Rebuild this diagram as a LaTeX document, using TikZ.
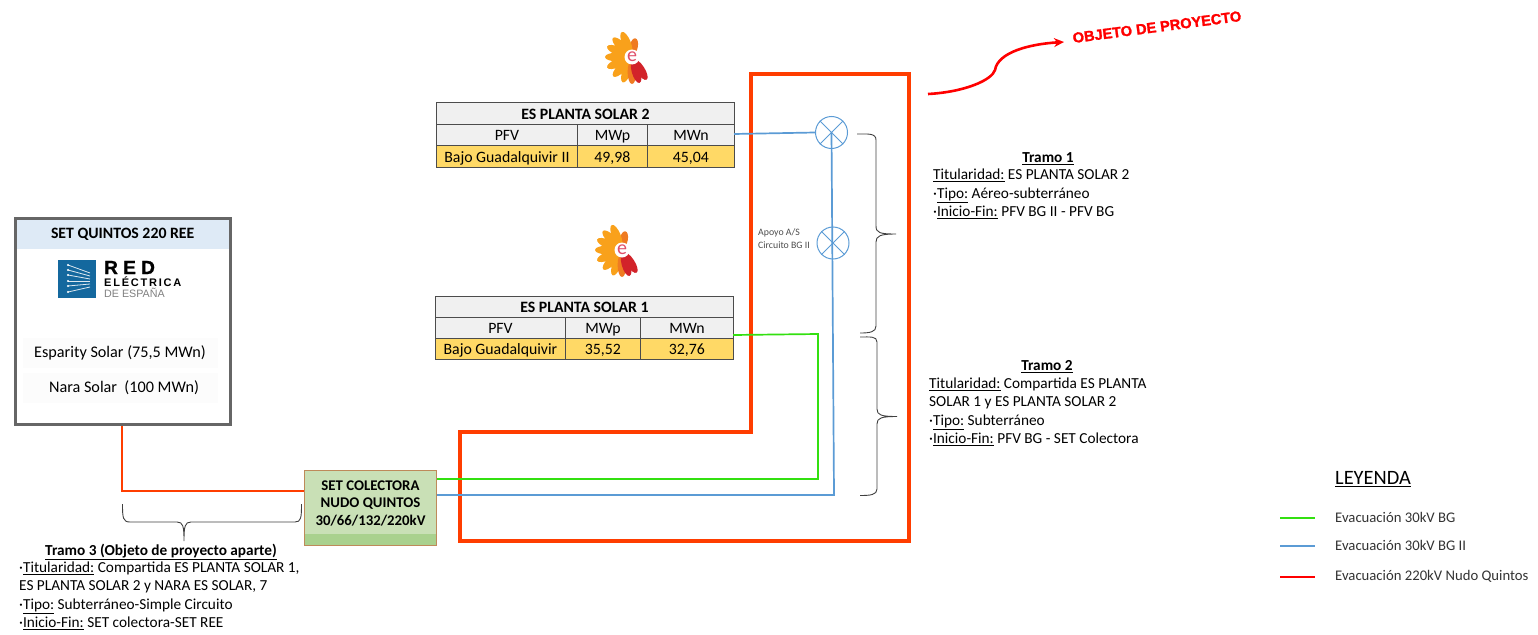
\documentclass[tikz,border=0pt]{standalone}
\usepackage{fontspec}
\usetikzlibrary{arrows.meta}
\setmainfont{Carlito}
\newfontfamily\logofont{Liberation Sans}
\newfontfamily\logowide[LetterSpace=28,FakeBold=1.2]{Liberation Sans}
\newfontfamily\logotrack[LetterSpace=16]{Liberation Sans}
\newfontfamily\objfont[FakeBold=1.6]{Liberation Sans}
\definecolor{boxred}{HTML}{FF3D00}
\definecolor{lineblue}{HTML}{5B9BD5}
\definecolor{linegreen}{HTML}{33E010}
\definecolor{cellgray}{HTML}{F0F0F0}
\definecolor{cellgold}{HTML}{FFD966}
\definecolor{headblue}{HTML}{DEEAF6}
\definecolor{setgreen}{HTML}{C9E0B6}
\definecolor{setstrip}{HTML}{A9D18E}
\definecolor{setedge}{HTML}{BE8A5A}
\definecolor{reeblue}{HTML}{14689E}
\definecolor{petal}{HTML}{F9A11B}
\definecolor{petalmid}{HTML}{EF7B22}
\definecolor{petalred}{HTML}{D2232A}
\definecolor{epink}{HTML}{E0506A}
\tikzset{
	cell/.style={draw=black!70,line width=0.9pt,anchor=north west,inner sep=0,text height=12pt,text depth=0pt,font=\fontsize{15.8}{17}\selectfont},
	blockt/.style={anchor=north west,align=left,inner sep=0,font=\fontsize{15.3}{18.5}\selectfont},
	titlet/.style={inner sep=0,font=\fontsize{15.3}{17}\selectfont\bfseries},
	rowt/.style={fill=black!1,minimum width=195pt,minimum height=30pt,inner sep=0,font=\fontsize{16.2}{17}\selectfont},
	brc/.style={draw=black!75,line width=0.9pt},
	lgt/.style={anchor=west,inner sep=0,font=\fontsize{14.7}{16}\selectfont,black!80},
	cross/.style={circle,draw=lineblue,line width=1pt,minimum size=32pt,inner sep=0},
	flower/.pic={
		\fill[petalmid,rotate=80] (11,0) ellipse (8 and 4);
		\foreach \ang/\col in {112/petal,135/petal,157/petal,180/petal,203/petal,226/petal,250/petal,270/petalmid,286/petalred,303/petalred}
			\fill[\col,rotate=\ang] (15,0) ellipse (12 and 4.4);
		\node[circle,fill=white,inner sep=0,minimum size=15pt,text=epink,font=\fontsize{20}{20}\selectfont] (-e) at (0,0) {e};
	}
}
\begin{document}
\begin{tikzpicture}[x=1pt,y=-1pt]
	\useasboundingbox (0,0) rectangle (1538,634);
	% red frame
	\draw[boxred,line width=4pt] (751,74) -- (909,74) -- (909,541) -- (460,541) -- (460,432) -- (751,432) -- cycle;
	% table 2
	\node[cell,fill=cellgray,minimum width=298pt,minimum height=22pt] (t2head) at (436,102) {\bfseries ES PLANTA SOLAR 2};
	\node[cell,fill=cellgray,minimum width=141pt,minimum height=21pt] (t2pfv) at (436,124) {PFV};
	\node[cell,fill=cellgray,minimum width=70pt,minimum height=21pt] (t2mwp) at (577,124) {MWp};
	\node[cell,fill=cellgray,minimum width=87pt,minimum height=21pt] (t2mwn) at (647,124) {MWn};
	\node[cell,fill=cellgold,minimum width=141pt,minimum height=22pt] (t2name) at (436,145) {Bajo Guadalquivir II};
	\node[cell,fill=cellgold,minimum width=70pt,minimum height=22pt] (t2p) at (577,145) {49,98};
	\node[cell,fill=cellgold,minimum width=87pt,minimum height=22pt] (t2n) at (647,145) {45,04};
	% table 1
	\node[cell,fill=cellgray,minimum width=298pt,minimum height=21pt] (t1head) at (435,296) {\bfseries ES PLANTA SOLAR 1};
	\node[cell,fill=cellgray,minimum width=130pt,minimum height=21pt] (t1pfv) at (435,317) {PFV};
	\node[cell,fill=cellgray,minimum width=75pt,minimum height=21pt] (t1mwp) at (565,317) {MWp};
	\node[cell,fill=cellgray,minimum width=93pt,minimum height=21pt] (t1mwn) at (640,317) {MWn};
	\node[cell,fill=cellgold,minimum width=130pt,minimum height=21pt] (t1name) at (435,338) {Bajo Guadalquivir};
	\node[cell,fill=cellgold,minimum width=75pt,minimum height=21pt] (t1p) at (565,338) {35,52};
	\node[cell,fill=cellgold,minimum width=93pt,minimum height=21pt] (t1n) at (640,338) {32,76};
	% logos
	\pic (logotop) at (632,57) {flower};
	\pic (logolow) at (622,250) {flower};
	% substations
	\node[draw=black!60,line width=3pt,fill=white,anchor=north west,minimum width=215pt,minimum height=206pt,inner sep=0] (ree) at (13.5,216.5) {};
	\node[fill=headblue,anchor=north west,minimum width=212pt,minimum height=29pt,inner sep=0,font=\fontsize{15.8}{17}\selectfont\bfseries] (reehead) at (16.5,219.5) {SET QUINTOS 220 REE};
	\node[rowt] (esp) at (120,353) {Esparity Solar (75,5 MWn)};
	\node[rowt] (nara) at (120,388) {\hspace*{8pt}Nara Solar\ \ (100 MWn)};
	\node[fill=reeblue,anchor=north west,minimum size=38pt,inner sep=0] (reesq) at (58,260) {};
	\foreach \ya/\yb in {265/273,270/276,275/279,281/281,286/284,292/287} {
		\draw[white!85!reeblue,line width=0.8pt] (68,\ya) -- (90,\yb);
		\fill[white] (68,\ya) circle (1.2);
	}
	\node[anchor=west,inner sep=0,font=\logowide\fontsize{19}{19}\selectfont\bfseries] (reered) at (104,267.5) {RED};
	\node[anchor=west,inner sep=0,font=\logotrack\fontsize{11}{11}\selectfont\bfseries] (reeele) at (104,282) {ELÉCTRICA};
	\node[anchor=west,inner sep=0,text=black!50,font=\logofont\fontsize{10.7}{11}\selectfont] (reeesp) at (104,292.5) {DE ESPAÑA};
	\node[draw=setedge,line width=1pt,fill=setgreen,anchor=north west,minimum width=131.7pt,minimum height=75pt,inner sep=0] (col) at (304,470) {};
	\node[fill=setstrip,anchor=north west,minimum width=131pt,minimum height=11pt,inner sep=0] (colstrip) at (304.5,534) {};
	\node[align=center,inner sep=0,font=\fontsize{14.8}{17.5}\selectfont\bfseries] (coltxt) at (370.5,503) {SET COLECTORA\\NUDO QUINTOS\\30/66/132/220kV};
	% crossing points
	\node[cross] (c1) at (831.5,132.5) {};
	\node[cross] (c2) at (833,243) {};
	\draw[lineblue,line width=1pt] (c1.45) -- (c1.225) (c1.135) -- (c1.315) (c2.45) -- (c2.225) (c2.135) -- (c2.315);
	\node[inner sep=0,align=left,text=black!70,font=\fontsize{9.8}{12.5}\selectfont] (apoyo) at (784,238.5) {Apoyo A/S\\Circuito BG II};
	% lines
	\coordinate (b2) at (734,134);
	\coordinate (bc) at (834,495);
	\coordinate (bs) at (437,495);
	\coordinate (g1) at (733,335);
	\coordinate (gc) at (818,334);
	\coordinate (gs) at (437,479);
	\coordinate (rs) at (304,491);
	\coordinate (rt) at (122,426);
	\draw[lineblue,line width=1.7pt] (b2) -- (c1.west);
	\draw[lineblue,line width=1.7pt] (c1.center) -- (bc) -- (bs);
	\draw[linegreen,line width=1.7pt] (g1) -- (gc) |- (gs);
	\draw[boxred,line width=1.4pt] (rt) |- (rs);
	% arrow
	\coordinate (ar1) at (928,94);
	\coordinate (ar2) at (1064,42);
	\draw[-{Stealth[length=10pt,width=9pt]},red,line width=2.6pt] (ar1) .. controls (965,92) and (992,80) .. (995,70) .. controls (998,52) and (1030,44) .. (ar2);
	\node[rotate=7.5,inner sep=0,text=red,font=\objfont\fontsize{14.6}{15}\selectfont\bfseries] (obj) at (1157,27) {OBJETO DE PROYECTO};
	% braces
	\draw[brc] (857,134) .. controls (868,134) and (876,133) .. (876,140) -- (876,226) .. controls (876,233) and (880,234) .. (896,234) .. controls (880,234) and (876,236) .. (876,242) -- (876,326) .. controls (876,332) and (870,333) .. (860,333);
	\draw[brc] (860,337) .. controls (870,337) and (877,336) .. (877,342) -- (877,409) .. controls (877,415) and (881,416.5) .. (897,416.5) .. controls (881,416.5) and (877,418) .. (877,424) -- (877,489) .. controls (877,495) and (870,495.5) .. (860,495.5);
	\draw[brc] (122.5,504) .. controls (122.5,518) and (123,522) .. (130,522) -- (177,522) .. controls (183,522) and (184,526) .. (184,541) .. controls (184,526) and (185,522) .. (191,522) -- (295,522) .. controls (301,522) and (301.5,518) .. (301.5,504);
	% section texts
	\node[titlet] (tr1t) at (1048,159) {\underline{Tramo 1}};
	\node[blockt] (tr1) at (933,169) {\underline{Titularidad:} ES PLANTA SOLAR 2\\·\underline{Tipo:} Aéreo-subterráneo\\·\underline{Inicio-Fin:} PFV BG II - PFV BG};
	\node[titlet] (tr2t) at (1047,367) {\underline{Tramo 2}};
	\node[blockt] (tr2) at (929,377.5) {\underline{Titularidad:} Compartida ES PLANTA\\SOLAR 1 y ES PLANTA SOLAR 2\\·\underline{Tipo:} Subterráneo\\·\underline{Inicio-Fin:} PFV BG - SET Colectora};
	\node[titlet] (tr3t) at (161,552) {\underline{Tramo 3 (Objeto de proyecto aparte)}};
	\node[blockt] (tr3) at (19,561.5) {·\underline{Titularidad:} Compartida ES PLANTA SOLAR 1,\\ES PLANTA SOLAR 2 y NARA ES SOLAR, 7\\·\underline{Tipo:} Subterráneo-Simple Circuito\\·\underline{Inicio-Fin:} SET colectora-SET REE};
	% legend
	\node[anchor=west,inner sep=0,font=\fontsize{20.4}{22}\selectfont] (leg) at (1335,479) {\underline{LEYENDA}};
	\node[lgt] (lg1) at (1335,517) {Evacuación 30kV BG};
	\node[lgt] (lg2) at (1335,545) {Evacuación 30kV BG II};
	\node[lgt] (lg3) at (1335,576) {Evacuación 220kV Nudo Quintos};
	\coordinate (l1) at (1280,518);
	\coordinate (l2) at (1280,546);
	\coordinate (l3) at (1280,577);
	\coordinate (m1) at (1315,518);
	\coordinate (m2) at (1315,546);
	\coordinate (m3) at (1315,577);
	\draw[linegreen,line width=1.7pt] (l1) -- (m1);
	\draw[lineblue,line width=1.7pt] (l2) -- (m2);
	\draw[red,line width=1.7pt] (l3) -- (m3);
\end{tikzpicture}
\end{document}
